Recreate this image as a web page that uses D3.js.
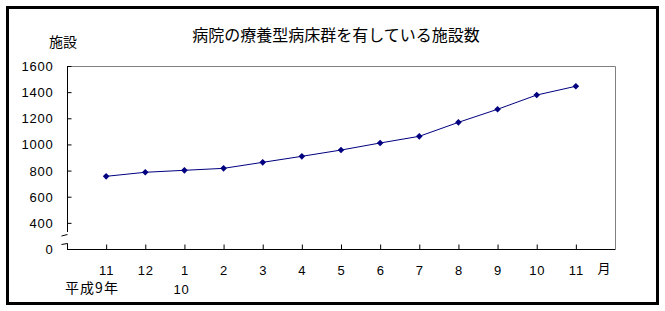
<!DOCTYPE html>
<html>
<head>
<meta charset="utf-8">
<script src="https://cdn.jsdelivr.net/npm/d3@7"></script>
<style>
    body { margin: 0; background: #fff; }
    text { font-family: "Noto Sans CJK JP", "Noto Sans", sans-serif; fill: #000; }
    .num { font-family: "Liberation Sans", "DejaVu Sans", sans-serif; letter-spacing: 0.8px; }
</style>
</head>
<body>
<div id="chart"></div>
<script>
(function () {
    'use strict';

    // data (施設数, 平成9年11月 ～ 平成10年11月)
    var months = ['11', '12', '1', '2', '3', '4', '5', '6', '7', '8', '9', '10', '11'];
    var values = [756, 787, 802, 817, 863, 909, 957, 1011, 1062, 1169, 1269, 1378, 1445];
    var yTickValues = [200, 400, 600, 800, 1000, 1200, 1400, 1600];
    var yTickLabels = ['0', '400', '600', '800', '1000', '1200', '1400', '1600'];

    var title = '病院の療養型病床群を有している施設数',
        yTitle = '施設',
        xUnit = '月',
        yearLabel = '平成9年',
        nextYearLabel = '10';

    var width = 665,
        height = 311,
        plot = { left: 67, right: 615, top: 66, bottom: 249 },
        color = '#000080';

    var svg = d3.select('#chart').append('svg')
        .attr('width', width)
        .attr('height', height);

    // outer frame
    svg.append('rect')
        .attr('x', 7.5).attr('y', 7.5)
        .attr('width', 650).attr('height', 296)
        .attr('fill', 'none')
        .attr('stroke', '#000')
        .attr('stroke-width', 3);

    var x = d3.scalePoint()
        .domain(d3.range(months.length))
        .range([plot.left, plot.right])
        .padding(1);

    var y = d3.scaleLinear()
        .domain([200, 1600])
        .range([plot.bottom, plot.top]);

    // plot area border (top, right) in gray
    svg.append('path')
        .attr('d', 'M' + plot.left + ',' + (plot.top + 0.5) + 'H' + (plot.right + 0.5) + 'V' + plot.bottom)
        .attr('fill', 'none')
        .attr('stroke', '#808080');

    // y axis
    var yAxis = d3.axisLeft(y)
        .tickValues(yTickValues)
        .tickSize(-4)
        .tickPadding(14)
        .tickFormat(function (d, i) { return yTickLabels[i]; });

    var gy = svg.append('g')
        .attr('transform', 'translate(' + (plot.left + 0.5) + ',0)')
        .call(yAxis);
    gy.select('.domain').remove();
    gy.selectAll('.tick line').attr('stroke', '#000');
    gy.selectAll('.tick text')
        .attr('class', 'num')
        .style('font-size', '13px')
        .attr('dy', '0.35em');
    gy.selectAll('.tick').filter(function (d) { return d === 200; }).select('line').remove();

    // y axis line with break
    var breakTop = 232, breakBottom = 243.5;
    svg.append('path')
        .attr('d', 'M' + (plot.left + 0.5) + ',' + plot.top + 'V' + breakTop +
                   'M' + (plot.left + 0.5) + ',' + breakBottom + 'V' + plot.bottom)
        .attr('fill', 'none')
        .attr('stroke', '#000');
    svg.append('path')
        .attr('d', 'M' + (plot.left - 5.5) + ',' + (breakTop + 4) + 'L' + (plot.left + 0.5) + ',' + (breakTop + 2.5) +
                   'M' + (plot.left - 5.5) + ',' + (breakBottom + 1) + 'L' + (plot.left + 0.5) + ',' + breakBottom)
        .attr('fill', 'none')
        .attr('stroke', '#000');

    // x axis
    var xAxis = d3.axisBottom(x)
        .tickSize(-5)
        .tickPadding(17)
        .tickFormat(function (d) { return months[d]; });

    var gx = svg.append('g')
        .attr('transform', 'translate(0,' + (plot.bottom + 0.5) + ')')
        .call(xAxis);
    gx.select('.domain')
        .attr('d', 'M' + plot.left + ',0H' + (plot.right + 0.5))
        .attr('stroke', '#000');
    gx.selectAll('.tick line').attr('stroke', '#000');
    gx.selectAll('.tick text')
        .attr('class', 'num')
        .style('font-size', '13px')
        .attr('dy', '0.35em')
        .attr('y', 20.5);

    // line + markers
    var line = d3.line()
        .x(function (d, i) { return x(i); })
        .y(function (d) { return y(d); });

    svg.append('path')
        .datum(values)
        .attr('d', line)
        .attr('fill', 'none')
        .attr('stroke', color)
        .attr('stroke-width', 1);

    svg.selectAll('.marker')
        .data(values)
        .enter().append('path')
        .attr('class', 'marker')
        .attr('d', d3.symbol().type(d3.symbolSquare).size(22))
        .attr('transform', function (d, i) { return 'translate(' + x(i) + ',' + y(d) + ') rotate(45)'; })
        .attr('fill', color);

    // texts
    svg.append('text')
        .attr('x', 336).attr('y', 35)
        .attr('dy', '0.35em')
        .attr('text-anchor', 'middle')
        .style('font-size', '16px')
        .text(title);

    svg.append('text')
        .attr('x', 63).attr('y', 42)
        .attr('dy', '0.35em')
        .attr('text-anchor', 'middle')
        .style('font-size', '14px')
        .text(yTitle);

    svg.append('text')
        .attr('x', 604).attr('y', 268)
        .attr('dy', '0.35em')
        .attr('text-anchor', 'middle')
        .style('font-size', '13px')
        .text(xUnit);

    svg.append('text')
        .attr('x', 92).attr('y', 288)
        .attr('dy', '0.35em')
        .attr('text-anchor', 'middle')
        .style('font-size', '14px')
        .style('letter-spacing', '1px')
        .text(yearLabel);

    svg.append('text')
        .attr('class', 'num')
        .attr('x', x(2) - 3).attr('y', 289)
        .attr('dy', '0.35em')
        .attr('text-anchor', 'middle')
        .style('font-size', '13px')
        .text(nextYearLabel);

})();
</script>
</body>
</html>
